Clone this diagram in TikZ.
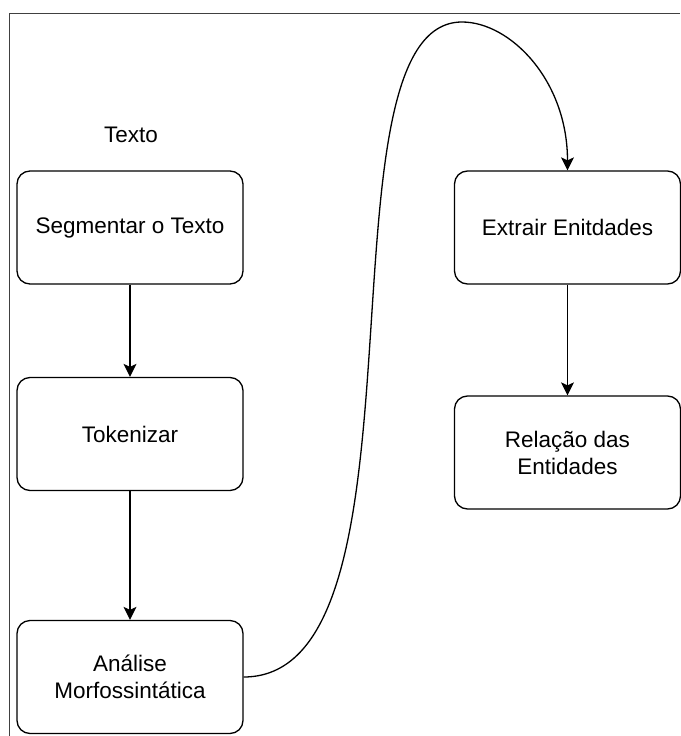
\documentclass[tikz,border=0pt]{standalone}
\usepackage{fontspec}
\setmainfont{Liberation Sans}
\usetikzlibrary{arrows.meta}
\begin{document}
\begin{tikzpicture}[x=1pt,y=-1pt,
    etapa/.style={draw, line width=1.3pt, rounded corners=13pt, minimum width=226pt,
      minimum height=113pt, align=center, inner sep=0pt, font=\fontsize{22.5}{27}\selectfont},
    seta/.style={-{Stealth[length=13pt,width=13pt,inset=3pt]}, line width=1.3pt}]
      \useasboundingbox (0,0) rectangle (680,736);
      \draw[line width=1pt, black!75] (9,736) -- (9,13) -- (680,13);
      \node[font=\fontsize{22.5}{27}\selectfont] (texto) at (131,135) {Texto};
      \node[etapa] (seg) at (130,227.5) {Segmentar o Texto};
      \node[etapa] (tok) at (130,434) {Tokenizar};
      \node[etapa] (ana) at (130,677) {Análise\\Morfossintática};
      \node[etapa] (ext) at (567.5,227.5) {Extrair Enitdades};
      \node[etapa] (rel) at (567.5,452.5) {Relação das\\Entidades};
      \coordinate (topo) at (462,22);
      \draw[seta] (seg) -- (tok);
      \draw[seta] (tok) -- (ana);
      \draw[seta] (ext) -- (rel);
      \draw[seta] (ana.east) .. controls (440,677) and (310,22) .. (topo)
        .. controls (510,22) and (567.5,80) .. (ext.north);
    \end{tikzpicture}
\end{document}
